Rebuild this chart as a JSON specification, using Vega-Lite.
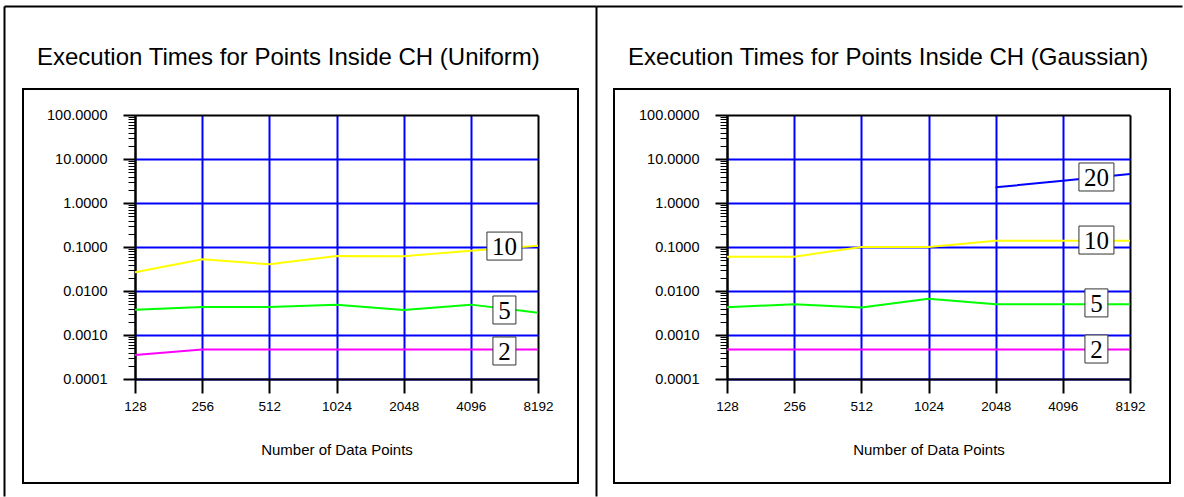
{
  "$schema": "https://vega.github.io/schema/vega-lite/v6.json",
  "background": "white",
  "padding": {"left": 0, "top": 45, "right": 0, "bottom": 0},
  "autosize": {"type": "pad"},
  "bounds": "flush",
  "spacing": 36,
  "config": {
    "font": "Liberation Sans",
    "view": {"stroke": "black", "strokeWidth": 2, "fill": "white"}
  },
  "datasets": {
    "lines": [
      {"d": "Uniform", "s": "10", "n": 128, "t": 0.0266},
      {"d": "Uniform", "s": "10", "n": 256, "t": 0.0525},
      {"d": "Uniform", "s": "10", "n": 512, "t": 0.0404},
      {"d": "Uniform", "s": "10", "n": 1024, "t": 0.0624},
      {"d": "Uniform", "s": "10", "n": 2048, "t": 0.062},
      {"d": "Uniform", "s": "10", "n": 4096, "t": 0.0826},
      {"d": "Uniform", "s": "10", "n": 8192, "t": 0.107},
      {"d": "Uniform", "s": "5", "n": 128, "t": 0.00377},
      {"d": "Uniform", "s": "5", "n": 256, "t": 0.00433},
      {"d": "Uniform", "s": "5", "n": 512, "t": 0.00433},
      {"d": "Uniform", "s": "5", "n": 1024, "t": 0.0049},
      {"d": "Uniform", "s": "5", "n": 2048, "t": 0.0037},
      {"d": "Uniform", "s": "5", "n": 4096, "t": 0.0049},
      {"d": "Uniform", "s": "5", "n": 8192, "t": 0.00322},
      {"d": "Uniform", "s": "2", "n": 128, "t": 0.00035},
      {"d": "Uniform", "s": "2", "n": 256, "t": 0.00047},
      {"d": "Uniform", "s": "2", "n": 512, "t": 0.00047},
      {"d": "Uniform", "s": "2", "n": 1024, "t": 0.00047},
      {"d": "Uniform", "s": "2", "n": 2048, "t": 0.00047},
      {"d": "Uniform", "s": "2", "n": 4096, "t": 0.00047},
      {"d": "Uniform", "s": "2", "n": 8192, "t": 0.00047},
      {"d": "Gaussian", "s": "20", "n": 2048, "t": 2.27},
      {"d": "Gaussian", "s": "20", "n": 4096, "t": 3.2},
      {"d": "Gaussian", "s": "20", "n": 8192, "t": 4.56},
      {"d": "Gaussian", "s": "10", "n": 128, "t": 0.0603},
      {"d": "Gaussian", "s": "10", "n": 256, "t": 0.0603},
      {"d": "Gaussian", "s": "10", "n": 512, "t": 0.1},
      {"d": "Gaussian", "s": "10", "n": 1024, "t": 0.1},
      {"d": "Gaussian", "s": "10", "n": 2048, "t": 0.139},
      {"d": "Gaussian", "s": "10", "n": 4096, "t": 0.139},
      {"d": "Gaussian", "s": "10", "n": 8192, "t": 0.139},
      {"d": "Gaussian", "s": "5", "n": 128, "t": 0.00426},
      {"d": "Gaussian", "s": "5", "n": 256, "t": 0.005},
      {"d": "Gaussian", "s": "5", "n": 512, "t": 0.00424},
      {"d": "Gaussian", "s": "5", "n": 1024, "t": 0.0067},
      {"d": "Gaussian", "s": "5", "n": 2048, "t": 0.005},
      {"d": "Gaussian", "s": "5", "n": 4096, "t": 0.005},
      {"d": "Gaussian", "s": "5", "n": 8192, "t": 0.005},
      {"d": "Gaussian", "s": "2", "n": 128, "t": 0.00047},
      {"d": "Gaussian", "s": "2", "n": 256, "t": 0.00047},
      {"d": "Gaussian", "s": "2", "n": 512, "t": 0.00047},
      {"d": "Gaussian", "s": "2", "n": 1024, "t": 0.00047},
      {"d": "Gaussian", "s": "2", "n": 2048, "t": 0.00047},
      {"d": "Gaussian", "s": "2", "n": 4096, "t": 0.00047},
      {"d": "Gaussian", "s": "2", "n": 8192, "t": 0.00047}
    ],
    "labels": [
      {"d": "Uniform", "s": "10", "n": 5793, "t": 0.105},
      {"d": "Uniform", "s": "5", "n": 5793, "t": 0.0037},
      {"d": "Uniform", "s": "2", "n": 5793, "t": 0.000433},
      {"d": "Gaussian", "s": "20", "n": 5793, "t": 3.9},
      {"d": "Gaussian", "s": "10", "n": 5793, "t": 0.144},
      {"d": "Gaussian", "s": "5", "n": 5793, "t": 0.00536},
      {"d": "Gaussian", "s": "2", "n": 5793, "t": 0.00048}
    ]
  },
  "hconcat": [
    {
      "width": 555,
      "height": 394,
      "title": {"text": "Execution Times for Points Inside CH (Uniform)", "anchor": "start", "frame": "group", "dx": 14, "offset": 0, "baseline": "alphabetic", "fontSize": 24, "fontWeight": "normal", "color": "black", "font": "Liberation Sans"},
      "layer": [
        {
          "layer": [
            {
              "data": {"name": "lines"},
              "transform": [{"filter": "datum.d == 'Uniform'"}],
              "mark": {"type": "line", "strokeWidth": 2, "clip": false},
              "encoding": {
                "x": {"field": "n", "type": "quantitative",
                  "scale": {"type": "log", "base": 2, "domain": [128, 8192], "range": [112, 515]},
                  "axis": {"orient": "bottom", "offset": -104, "values": [128, 256, 512, 1024, 2048, 4096, 8192], "format": "d",
                    "domainColor": "black", "domainWidth": 2, "tickColor": "black", "tickWidth": 2, "tickSize": 14,
                    "labelPadding": 6, "labelFontSize": 13.5, "labelColor": "black", "labelFlush": false, "labelOverlap": false,
                    "grid": false,
                    "title": "Number of Data Points", "titleFontSize": 15, "titleFontWeight": "normal", "titleColor": "black", "titlePadding": 30}},
                "y": {"field": "t", "type": "quantitative",
                  "scale": {"type": "log", "domain": [0.0001, 100], "range": [290, 26]},
                  "axis": {"orient": "left", "offset": -112,
                    "values": [0.0001,0.0002,0.0003,0.0004,0.0005,0.0006,0.0007,0.0008,0.0009,0.001,0.002,0.003,0.004,0.005,0.006,0.007,0.008,0.009,0.01,0.02,0.03,0.04,0.05,0.06,0.07,0.08,0.09,0.1,0.2,0.3,0.4,0.5,0.6,0.7,0.8,0.9,1,2,3,4,5,6,7,8,9,10,20,30,40,50,60,70,80,90,100],
                    "labelExpr": "indexof([0.0001,0.001,0.01,0.1,1,10,100], datum.value) >= 0 ? format(datum.value, '.4f') : ''",
                    "domainColor": "black", "domainWidth": 2, "tickColor": "black",
                    "tickSize": {"condition": {"test": "indexof([0.0001,0.001,0.01,0.1,1,10,100], datum.value) >= 0", "value": 12}, "value": 7},
                    "tickWidth": {"condition": {"test": "indexof([0.0001,0.001,0.01,0.1,1,10,100], datum.value) >= 0", "value": 2}, "value": 1},
                    "labelPadding": 16, "labelFontSize": 14.5, "labelColor": "black", "labelFlush": false, "labelOverlap": false, "labelBaseline": "middle",
                    "grid": true, "gridWidth": 2,
                    "gridColor": {"condition": {"test": "datum.value >= 100", "value": "black"}, "value": "#0000ff"},
                    "gridOpacity": {"condition": {"test": "indexof([0.0001,0.001,0.01,0.1,1,10,100], datum.value) >= 0", "value": 1}, "value": 0},
                    "title": null}},
                "color": {"field": "s", "type": "nominal", "scale": {"domain": ["2", "5", "10", "20"], "range": ["#ff00ff", "#00ff00", "#ffff00", "#0000ff"]}, "legend": null}
              }
            },
            {
              "data": {"name": "labels"},
              "transform": [{"filter": "datum.d == 'Uniform'"}],
              "mark": {"type": "point", "filled": true, "fill": "white", "stroke": "#333333", "strokeWidth": 1, "opacity": 1, "size": 784},
              "encoding": {
                "x": {"field": "n", "type": "quantitative"},
                "y": {"field": "t", "type": "quantitative"},
                "shape": {"field": "s", "type": "nominal", "scale": {"domain": ["2", "5", "10", "20"], "range": ["M-0.82,-1H0.82V1H-0.82Z", "M-0.82,-1H0.82V1H-0.82Z", "M-1.25,-1H1.25V1H-1.25Z", "M-1.25,-1H1.25V1H-1.25Z"]}, "legend": null}
              }
            },
            {
              "data": {"name": "labels"},
              "transform": [{"filter": "datum.d == 'Uniform'"}],
              "mark": {"type": "text", "font": "Liberation Serif", "fontSize": 25, "align": "center", "baseline": "middle", "dy": 1, "color": "black"},
              "encoding": {
                "x": {"field": "n", "type": "quantitative"},
                "y": {"field": "t", "type": "quantitative"},
                "text": {"field": "s"}
              }
            }
          ]
        },
        {
          "data": {"name": "lines"},
          "transform": [{"filter": "datum.d == 'Uniform'"}],
          "mark": {"type": "point", "opacity": 0},
          "encoding": {
            "x": {"field": "n", "type": "quantitative",
              "scale": {"type": "log", "base": 2, "domain": [128, 8192], "range": [112, 515]},
              "axis": {"orient": "top", "values": [128, 256, 512, 1024, 2048, 4096, 8192], "domain": false, "ticks": false, "labels": false, "grid": true, "gridWidth": 2,
                "gridColor": {"condition": {"test": "datum.value == 128 || datum.value == 8192", "value": "black"}, "value": "#0000ff"}, "title": null}},
            "y": {"field": "t", "type": "quantitative",
              "scale": {"type": "log", "domain": [0.0001, 100], "range": [290, 26]},
              "axis": null}
          }
        },
        {
          "data": {"name": "lines"},
          "transform": [{"filter": "datum.d == 'Uniform'"}],
          "mark": {"type": "point", "opacity": 0},
          "encoding": {
            "x": {"field": "n", "type": "quantitative",
              "scale": {"type": "log", "base": 2, "domain": [128, 8192], "range": [-19, 573]},
              "axis": {"orient": "top", "values": [128, 8192], "domain": false, "ticks": false, "labels": false, "grid": true, "gridColor": "black", "gridWidth": 2, "title": null}},
            "y": {"field": "t", "type": "quantitative",
              "scale": {"type": "log", "domain": [0.0001, 100], "range": [407, -83]},
              "axis": {"orient": "left", "values": [100], "domain": false, "ticks": false, "labels": false, "grid": true, "gridColor": "black", "gridWidth": 2, "title": null}}
          }
        }
      ],
      "resolve": {"scale": {"x": "independent", "y": "independent"}}
    },
    {
      "width": 556,
      "height": 394,
      "title": {"text": "Execution Times for Points Inside CH (Gaussian)", "anchor": "start", "frame": "group", "dx": 14, "offset": 0, "baseline": "alphabetic", "fontSize": 24, "fontWeight": "normal", "color": "black", "font": "Liberation Sans"},
      "layer": [
        {
          "layer": [
            {
              "data": {"name": "lines"},
              "transform": [{"filter": "datum.d == 'Gaussian'"}],
              "mark": {"type": "line", "strokeWidth": 2, "clip": false},
              "encoding": {
                "x": {"field": "n", "type": "quantitative",
                  "scale": {"type": "log", "base": 2, "domain": [128, 8192], "range": [113, 516]},
                  "axis": {"orient": "bottom", "offset": -104, "values": [128, 256, 512, 1024, 2048, 4096, 8192], "format": "d",
                    "domainColor": "black", "domainWidth": 2, "tickColor": "black", "tickWidth": 2, "tickSize": 14,
                    "labelPadding": 6, "labelFontSize": 13.5, "labelColor": "black", "labelFlush": false, "labelOverlap": false,
                    "grid": false,
                    "title": "Number of Data Points", "titleFontSize": 15, "titleFontWeight": "normal", "titleColor": "black", "titlePadding": 30}},
                "y": {"field": "t", "type": "quantitative",
                  "scale": {"type": "log", "domain": [0.0001, 100], "range": [290, 26]},
                  "axis": {"orient": "left", "offset": -113,
                    "values": [0.0001,0.0002,0.0003,0.0004,0.0005,0.0006,0.0007,0.0008,0.0009,0.001,0.002,0.003,0.004,0.005,0.006,0.007,0.008,0.009,0.01,0.02,0.03,0.04,0.05,0.06,0.07,0.08,0.09,0.1,0.2,0.3,0.4,0.5,0.6,0.7,0.8,0.9,1,2,3,4,5,6,7,8,9,10,20,30,40,50,60,70,80,90,100],
                    "labelExpr": "indexof([0.0001,0.001,0.01,0.1,1,10,100], datum.value) >= 0 ? format(datum.value, '.4f') : ''",
                    "domainColor": "black", "domainWidth": 2, "tickColor": "black",
                    "tickSize": {"condition": {"test": "indexof([0.0001,0.001,0.01,0.1,1,10,100], datum.value) >= 0", "value": 12}, "value": 7},
                    "tickWidth": {"condition": {"test": "indexof([0.0001,0.001,0.01,0.1,1,10,100], datum.value) >= 0", "value": 2}, "value": 1},
                    "labelPadding": 16, "labelFontSize": 14.5, "labelColor": "black", "labelFlush": false, "labelOverlap": false, "labelBaseline": "middle",
                    "grid": true, "gridWidth": 2,
                    "gridColor": {"condition": {"test": "datum.value >= 100", "value": "black"}, "value": "#0000ff"},
                    "gridOpacity": {"condition": {"test": "indexof([0.0001,0.001,0.01,0.1,1,10,100], datum.value) >= 0", "value": 1}, "value": 0},
                    "title": null}},
                "color": {"field": "s", "type": "nominal", "scale": {"domain": ["2", "5", "10", "20"], "range": ["#ff00ff", "#00ff00", "#ffff00", "#0000ff"]}, "legend": null}
              }
            },
            {
              "data": {"name": "labels"},
              "transform": [{"filter": "datum.d == 'Gaussian'"}],
              "mark": {"type": "point", "filled": true, "fill": "white", "stroke": "#333333", "strokeWidth": 1, "opacity": 1, "size": 784},
              "encoding": {
                "x": {"field": "n", "type": "quantitative"},
                "y": {"field": "t", "type": "quantitative"},
                "shape": {"field": "s", "type": "nominal", "scale": {"domain": ["2", "5", "10", "20"], "range": ["M-0.82,-1H0.82V1H-0.82Z", "M-0.82,-1H0.82V1H-0.82Z", "M-1.25,-1H1.25V1H-1.25Z", "M-1.25,-1H1.25V1H-1.25Z"]}, "legend": null}
              }
            },
            {
              "data": {"name": "labels"},
              "transform": [{"filter": "datum.d == 'Gaussian'"}],
              "mark": {"type": "text", "font": "Liberation Serif", "fontSize": 25, "align": "center", "baseline": "middle", "dy": 1, "color": "black"},
              "encoding": {
                "x": {"field": "n", "type": "quantitative"},
                "y": {"field": "t", "type": "quantitative"},
                "text": {"field": "s"}
              }
            }
          ]
        },
        {
          "data": {"name": "lines"},
          "transform": [{"filter": "datum.d == 'Gaussian'"}],
          "mark": {"type": "point", "opacity": 0},
          "encoding": {
            "x": {"field": "n", "type": "quantitative",
              "scale": {"type": "log", "base": 2, "domain": [128, 8192], "range": [113, 516]},
              "axis": {"orient": "top", "values": [128, 256, 512, 1024, 2048, 4096, 8192], "domain": false, "ticks": false, "labels": false, "grid": true, "gridWidth": 2,
                "gridColor": {"condition": {"test": "datum.value == 128 || datum.value == 8192", "value": "black"}, "value": "#0000ff"}, "title": null}},
            "y": {"field": "t", "type": "quantitative",
              "scale": {"type": "log", "domain": [0.0001, 100], "range": [290, 26]},
              "axis": null}
          }
        },
        {
          "data": {"name": "lines"},
          "transform": [{"filter": "datum.d == 'Gaussian'"}],
          "mark": {"type": "point", "opacity": 0},
          "encoding": {
            "x": {"field": "n", "type": "quantitative",
              "scale": {"type": "log", "base": 2, "domain": [128, 8192], "range": [-18, 568]},
              "axis": null},
            "y": {"field": "t", "type": "quantitative",
              "scale": {"type": "log", "domain": [0.0001, 100], "range": [407, -83]},
              "axis": {"orient": "left", "values": [100], "domain": false, "ticks": false, "labels": false, "grid": true, "gridColor": "black", "gridWidth": 2, "title": null}}
          }
        }
      ],
      "resolve": {"scale": {"x": "independent", "y": "independent"}}
    }
  ]
}
